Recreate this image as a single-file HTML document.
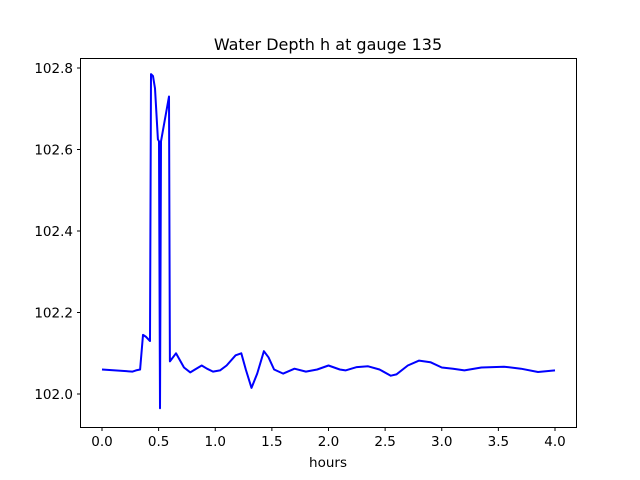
<!DOCTYPE html>
<html><head><meta charset="utf-8"><style>
html,body{margin:0;padding:0;background:#fff;}
svg{display:block;font-family:"DejaVu Sans","Liberation Sans",sans-serif;}
</style></head><body>
<svg id="chart" width="640" height="480">
<rect x="0" y="0" width="640" height="480" fill="#fff"/>
<text x="328" y="50" font-size="16" text-anchor="middle">Water Depth h at gauge 135</text>
<text x="328" y="467" font-size="13.5" text-anchor="middle">hours</text>
<g id="ticks"></g>
<path id="series" fill="none" stroke="#0000ff" stroke-width="2" stroke-linejoin="round"/>
<rect x="80.5" y="58.5" width="496" height="369" fill="none" stroke="#000" stroke-width="1"/>
</svg>
<script>
const hours=[0,0.27,0.30,0.336,0.362,0.389,0.424,0.433,0.45,0.468,0.494,0.503,0.512,0.521,0.592,0.600,0.653,0.724,0.78,0.821,0.88,0.927,0.98,1.042,1.1,1.18,1.23,1.27,1.32,1.37,1.43,1.47,1.52,1.6,1.7,1.8,1.9,2.0,2.1,2.15,2.25,2.35,2.45,2.55,2.6,2.7,2.8,2.9,3.0,3.1,3.2,3.35,3.55,3.7,3.85,4.0];
const depth=[102.06,102.055,102.058,102.06,102.145,102.14,102.13,102.785,102.78,102.75,102.625,102.62,101.965,102.62,102.73,102.08,102.1,102.065,102.053,102.06,102.07,102.062,102.055,102.058,102.07,102.095,102.10,102.06,102.015,102.05,102.105,102.09,102.06,102.05,102.062,102.055,102.06,102.07,102.06,102.058,102.066,102.068,102.06,102.045,102.048,102.07,102.082,102.078,102.065,102.062,102.058,102.065,102.067,102.062,102.054,102.058];
const xTicks=[0,0.5,1,1.5,2,2.5,3,3.5,4];
const yTicks=[102.0,102.2,102.4,102.6,102.8];
const xs=h=>102+h*113.25;
const ys=v=>394-(v-102)*407.5;
const NS="http://www.w3.org/2000/svg";
const g=document.getElementById('ticks');
xTicks.forEach(t=>{
 const l=document.createElementNS(NS,'line');
 l.setAttribute('x1',xs(t));l.setAttribute('x2',xs(t));l.setAttribute('y1',427.5);l.setAttribute('y2',431);l.setAttribute('stroke','#000');
 
 
 g.appendChild(l);
 const tx=document.createElementNS(NS,'text');
 tx.setAttribute('x',xs(t));tx.setAttribute('y',446);tx.setAttribute('font-size','13.5');tx.setAttribute('text-anchor','middle');
 tx.textContent=t.toFixed(1);
 
 
 g.appendChild(tx);
});
yTicks.forEach(t=>{
 const l=document.createElementNS(NS,'line');
 l.setAttribute('x1',77);l.setAttribute('x2',80.5);l.setAttribute('y1',ys(t));l.setAttribute('y2',ys(t));l.setAttribute('stroke','#000');
 
 
 g.appendChild(l);
 const tx=document.createElementNS(NS,'text');
 tx.setAttribute('x',73);tx.setAttribute('y',ys(t)+5);tx.setAttribute('font-size','13.5');tx.setAttribute('text-anchor','end');
 tx.textContent=t.toFixed(1);
 
 
 g.appendChild(tx);
});
document.getElementById('series').setAttribute('d',hours.map((h,i)=>(i?'L':'M')+xs(h).toFixed(1)+','+ys(depth[i]).toFixed(1)).join(''));
</script>
</body></html>
